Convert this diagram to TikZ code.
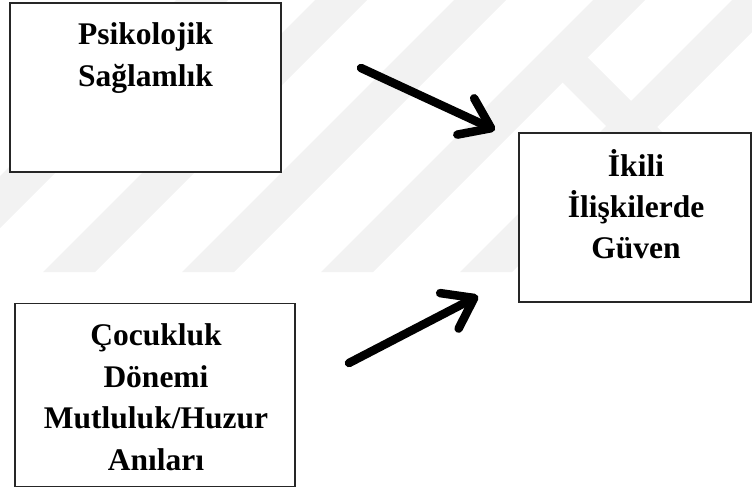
\documentclass[tikz,border=0pt]{standalone}
\usepackage{fontspec}
\setmainfont{Liberation Serif}
\usetikzlibrary{arrows.meta}
\begin{document}
\begin{tikzpicture}[x=1pt,y=-1pt,
  box/.style={draw=black!85, line width=1.3pt, fill=white, rectangle, inner sep=0pt},
  lbl/.style={font=\fontsize{31.5}{42}\selectfont\bfseries, anchor=base, inner sep=0pt},
  conn/.style={line width=8.5pt, line cap=round, line join=round, -{Straight Barb[length=28pt,width=40pt,round]}},
  wm/.style={fill=black!5, draw=none}]
\useasboundingbox (0,0) rectangle (752,488);
% faint watermark
\begin{scope}
  \clip (0,0) rectangle (752,272);
  \foreach \b in {-96,43,182,321,460}
    \fill[wm] (\b,272) -- (\b+52,272) -- (\b+324,0) -- (\b+272,0) -- cycle;
  \fill[wm] (570,40) -- (802,272) -- (752,272) -- (550,70) -- cycle;
\end{scope}
% boxes
\node[box, minimum width=271pt, minimum height=169pt] (b1) at (145.5,87.5) {};
\node[box, minimum width=232pt, minimum height=169pt] (b2) at (635,217.5) {};
\node[box, minimum width=280pt, minimum height=183pt] (b3) at (155,395) {};
% texts
\node[lbl] (t1a) at (145.5,44) {Psikolojik};
\node[lbl] (t1b) at (145.5,86) {Sağlamlık};
\node[lbl] (t2a) at (636,176) {İkili};
\node[lbl] (t2b) at (636,217) {İlişkilerde};
\node[lbl] (t2c) at (636,258) {Güven};
\node[lbl] (t3a) at (156,345) {Çocukluk};
\node[lbl] (t3b) at (156,387) {Dönemi};
\node[lbl] (t3c) at (156,428) {Mutluluk/Huzur};
\node[lbl] (t3d) at (156,470) {Anıları};
% arrows
\coordinate (a1s) at (361,68);
\coordinate (a1e) at (495,130);
\coordinate (a2s) at (349,363);
\coordinate (a2e) at (478,296);
\draw[conn] (a1s) -- (a1e);
\draw[conn] (a2s) -- (a2e);
\end{tikzpicture}
\end{document}
